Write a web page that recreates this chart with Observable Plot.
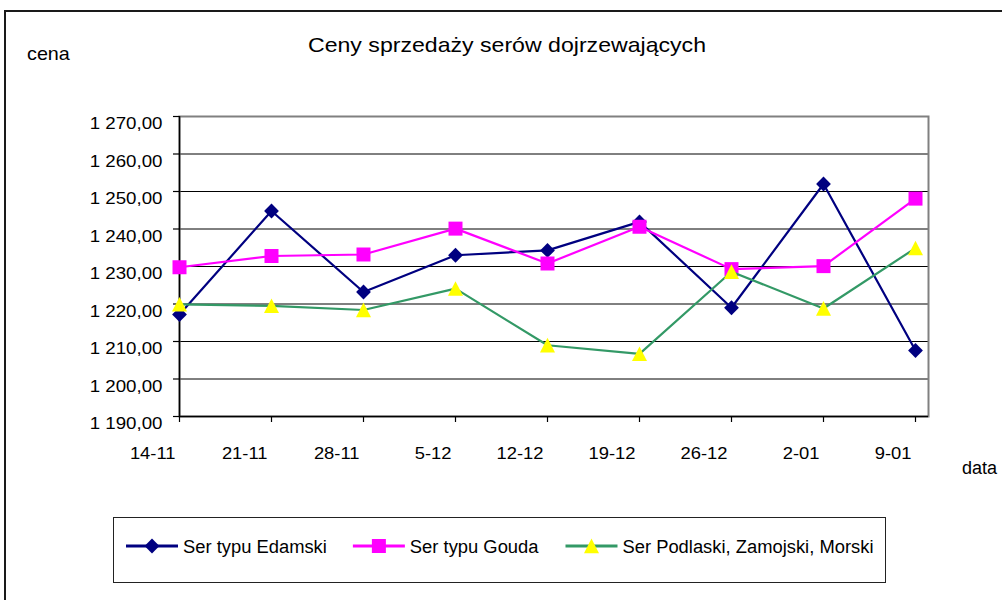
<!DOCTYPE html>
<html>
<head>
<meta charset="utf-8">
<script src="https://cdn.jsdelivr.net/npm/d3@7"></script>
<script src="https://cdn.jsdelivr.net/npm/@observablehq/plot@0.6"></script>
<style>
  html, body { margin: 0; padding: 0; background: #fff; }
  #wrap { position: relative; width: 1002px; height: 600px; overflow: hidden; font-family: 'Liberation Sans', Arial, sans-serif; }
  #wrap svg { position: absolute; left: 0; top: 0; }
</style>
</head>
<body>
<div id="wrap"></div>
<script>
// ---- data ----
const dates = ["14-11", "21-11", "28-11", "5-12", "12-12", "19-12", "26-12", "2-01", "9-01"];
const edamski  = [1217.2, 1244.8, 1223.2, 1233.0, 1234.3, 1241.9, 1219.0, 1252.0, 1207.6];
const gouda    = [1229.8, 1232.8, 1233.2, 1240.1, 1230.8, 1240.6, 1229.3, 1230.1, 1248.1];
const podlaski = [1219.9, 1219.5, 1218.4, 1224.1, 1209.0, 1206.7, 1228.6, 1218.8, 1234.9];
const yTicks = [1190, 1200, 1210, 1220, 1230, 1240, 1250, 1260, 1270];
const seriesNames = ["Ser typu Edamski", "Ser typu Gouda", "Ser Podlaski, Zamojski, Morski"];
const title = "Ceny sprzedaży serów dojrzewających";
const yLabel = "cena";
const xLabel = "data";

// ---- marker shapes (Excel-like) ----
const R = s => Math.sqrt(s / Math.PI);
const symDiamond = { draw(c, s) { const h = R(s); c.moveTo(0, -h); c.lineTo(h, 0); c.lineTo(0, h); c.lineTo(-h, 0); c.closePath(); } };
const symSquare  = { draw(c, s) { const h = R(s); c.rect(-h, -h, 2 * h, 2 * h); } };
const symTri     = { draw(c, s) { const h = R(s); c.moveTo(0, -h); c.lineTo(h, h * 0.95); c.lineTo(-h, h * 0.95); c.closePath(); } };

const series = [
  { name: seriesNames[0], values: edamski,  stroke: "#000080", fill: "#000080", symbol: symDiamond, r: 7.4 },
  { name: seriesNames[1], values: gouda,    stroke: "#ff00ff", fill: "#ff00ff", symbol: symSquare,  r: 7 },
  { name: seriesNames[2], values: podlaski, stroke: "#339966", fill: "#ffff00", symbol: symTri,     r: 7.5 }
];
const rows = vals => dates.map((d, i) => ({ date: d, value: vals[i] }));

const fmt = v => d3.format(",.2f")(v).replace(/,/g, " ").replace(".", ",");

const seriesMarks = series.flatMap(s => [
  Plot.line(rows(s.values), { x: "date", y: "value", stroke: s.stroke, strokeWidth: 2.2, strokeLinejoin: "miter" }),
  Plot.dot(rows(s.values), { x: "date", y: "value", fill: s.fill, stroke: "none", symbol: s.symbol, r: s.r })
]);

const chart = Plot.plot({
  width: 1002,
  height: 600,
  marginLeft: 179,
  marginRight: 74,
  marginTop: 116,
  marginBottom: 184,
  style: { fontFamily: "'Liberation Sans', Arial, sans-serif", fontSize: "17px", color: "#000", background: "transparent", overflow: "visible" },
  x: { type: "point", domain: dates, padding: 0, insetRight: 13, label: null },
  y: { domain: [yTicks[0], yTicks[yTicks.length - 1]], label: null },
  marks: [
    Plot.ruleY(yTicks.slice(1, -1), { stroke: "#000", strokeWidth: 1 }),
    Plot.frame({ stroke: "#808080", strokeWidth: 2 }),
    Plot.ruleY([yTicks[0]], { stroke: "#000", strokeWidth: 1.5 }),
    Plot.ruleX([dates[0]], { stroke: "#000", strokeWidth: 1.5 }),
    Plot.axisY({ ticks: yTicks, tickFormat: fmt, tickSize: 6, tickPadding: 11, label: null, strokeWidth: 1.2 }),
    Plot.axisX({ tickSize: 6, tickPadding: 24, label: null, strokeWidth: 1.2 }),
    ...seriesMarks
  ]
});

const wrap = document.getElementById("wrap");
wrap.append(chart);

function stretch(t, k) {
  const L = t.getComputedTextLength();
  t.setAttribute("textLength", (L * k).toFixed(2));
  t.setAttribute("lengthAdjust", "spacingAndGlyphs");
}
chart.querySelectorAll('g[aria-label="y-axis tick label"] text').forEach(t => { stretch(t, 1.1); t.setAttribute("dy", "0.42em"); });
chart.querySelectorAll('g[aria-label="x-axis tick label"] text').forEach(t => { stretch(t, 1.08); t.setAttribute("text-anchor", "end"); t.setAttribute("dx", "-4"); });

// ---- overlay: outer border, title, axis titles, legend ----
const NS = "http://www.w3.org/2000/svg";
const ov = document.createElementNS(NS, "svg");
ov.setAttribute("width", 1002); ov.setAttribute("height", 600);
ov.style.fontFamily = "'Liberation Sans', Arial, sans-serif";
wrap.append(ov);
function el(tag, attrs, parent = ov) { const e = document.createElementNS(NS, tag); for (const k in attrs) e.setAttribute(k, attrs[k]); parent.append(e); return e; }
function txt(str, x, y, size, k, anchor = "start") { const t = el("text", { x, y, "font-size": size, "text-anchor": anchor, fill: "#000" }); t.textContent = str; stretch(t, k); return t; }

el("path", { d: "M5,600V11H1002", fill: "none", stroke: "#1a1a1a", "stroke-width": 2 });
txt(title, 507, 52, 21, 1.1, "middle");
txt(yLabel, 27, 60, 19, 1.04);
txt(xLabel, 962, 474, 18, 1.0);

// legend
el("rect", { x: 113.5, y: 517.5, width: 772, height: 65, fill: "#fff", stroke: "#222", "stroke-width": 1 });
let lx = 126;
const ly = 546;
series.forEach(s => {
  el("line", { x1: lx, x2: lx + 52, y1: ly, y2: ly, stroke: s.stroke, "stroke-width": 3 });
  el("path", { d: d3.symbol(s.symbol, s.r * s.r * Math.PI)(), transform: `translate(${lx + 26},${ly})`, fill: s.fill });
  const t = txt(s.name, lx + 57, ly + 6.5, 18, 1.02);
  lx = lx + 57 + t.getBBox().width + 26;
});
</script>
</body>
</html>
